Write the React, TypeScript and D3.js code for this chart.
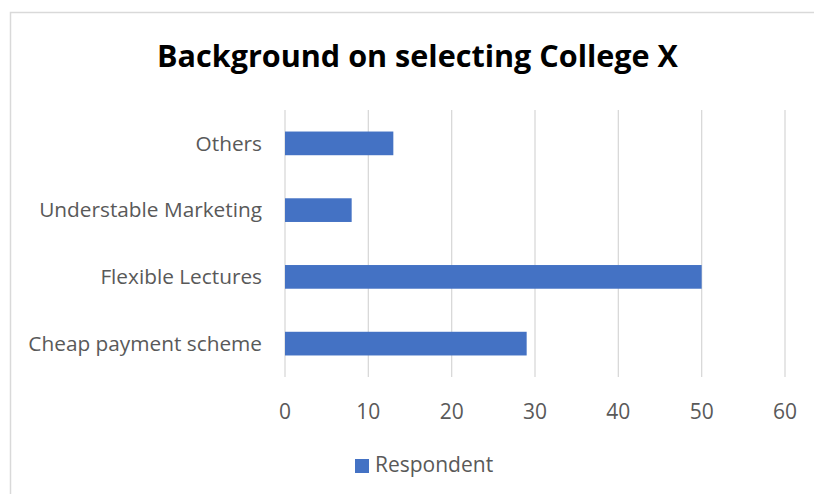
import React from "react";
import * as d3 from "d3";

const categories = ["Others", "Understable Marketing", "Flexible Lectures", "Cheap payment scheme"];
const respondentValues = [13, 8, 50, 29];
const xTicks = [0, 10, 20, 30, 40, 50, 60];
const seriesName = "Respondent";
const chartTitle = "Background on selecting College X";

const W = 814;
const H = 494;
const FONT = "'Open Sans', 'Noto Sans', sans-serif";

export default function App() {
  const x = d3.scaleLinear().domain([0, 60]).range([285, 785]);
  const y = d3
    .scaleBand<string>()
    .domain(categories)
    .range([110, 377])
    .paddingInner(0.645)
    .paddingOuter(0.3225);

  return (
    <svg
      width={W}
      height={H}
      style={{ position: "absolute", left: 0, top: 0, display: "block", background: "#fff" }}
    >
      <rect x={10.5} y={12.5} width={W} height={H} fill="#fff" stroke="#d9d9d9" strokeWidth={1.5} />
      <text
        x={417.5}
        y={67}
        textAnchor="middle"
        fontFamily={FONT}
        fontWeight={700}
        fontSize={30}
        fill="#000"
        textLength={521}
        lengthAdjust="spacingAndGlyphs"
      >
        {chartTitle}
      </text>
      {xTicks.map((t) => (
        <line key={"g" + t} x1={x(t)} x2={x(t)} y1={110} y2={377} stroke="#d9d9d9" strokeWidth={1.3} />
      ))}
      {categories.map((c, i) => (
        <rect
          key={"b" + c}
          x={x(0)}
          y={y(c)}
          width={x(respondentValues[i]) - x(0)}
          height={y.bandwidth()}
          fill="#4472c4"
        />
      ))}
      {categories.map((c) => (
        <text
          key={"l" + c}
          x={262}
          y={(y(c) as number) + y.bandwidth() / 2}
          dy="0.35em"
          textAnchor="end"
          fontFamily={FONT}
          fontSize={20.8}
          fill="#595959"
        >
          {c}
        </text>
      ))}
      {xTicks.map((t) => (
        <text
          key={"t" + t}
          x={x(t)}
          y={418.5}
          textAnchor="middle"
          fontFamily={FONT}
          fontSize={21}
          fill="#595959"
        >
          {t}
        </text>
      ))}
      <rect x={355} y={459} width={14} height={14} fill="#4472c4" />
      <text x={375} y={472} fontFamily={FONT} fontSize={21} fill="#595959">
        {seriesName}
      </text>
    </svg>
  );
}
